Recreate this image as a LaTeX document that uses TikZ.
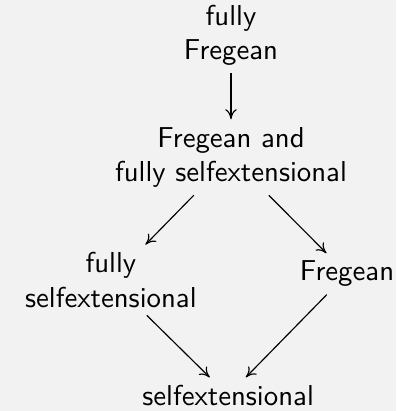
\documentclass[tikz,border=0pt]{standalone}
\usepackage{tikz}
\usetikzlibrary{arrows.meta}

\begin{document}
\begin{tikzpicture}[-{To[length=3.5pt,width=4pt]}, x=1pt, y=1pt, font=\sffamily,
  every node/.style={align=center, inner sep=2.5pt}]
% Background and bounding box
  \fill[black!5] (0,0) rectangle (137.5,-142.7);
  \useasboundingbox (0,0) rectangle (137.5,-142.7);

% Nodes
  \node (ffreg) at (80.2,-12.2) {fully\\Fregean};
  \node (fregfse) at (80.2,-54.6) {Fregean and\\fully selfextensional};
  \node (fse) at (38.5,-97.2) {fully\\selfextensional};
  \node (freg) at (120.5,-95.1) {Fregean};
  \node (se) at (79.2,-137.3) {selfextensional};

% Arrows
  \draw (ffreg) -- (fregfse);
  \draw (fregfse) -- (fse);
  \draw (fregfse) -- (freg);
  \draw (fse) -- (se);
  \draw (freg) -- (se);
\end{tikzpicture}
\end{document}
